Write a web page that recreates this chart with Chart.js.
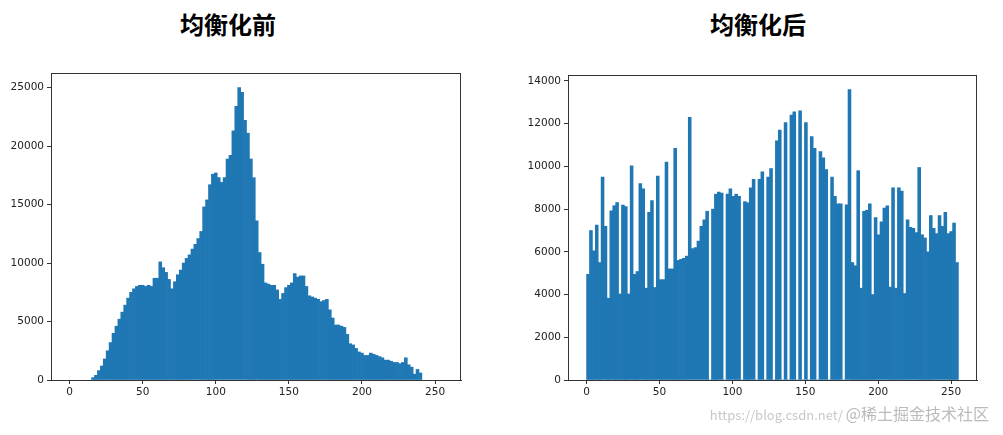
<!doctype html>
<html lang="zh">
  <head>
    <meta charset="UTF-8" />
    <title>均衡化前 / 均衡化后</title>
    <script src="https://cdn.jsdelivr.net/npm/chart.js"></script>
    <style>
      body { margin: 0; width: 1003px; height: 435px; background: #fff; position: relative; overflow: hidden; }
      .title { position: absolute; top: 6px; font-family: "Noto Sans CJK SC", sans-serif; font-weight: 700; font-size: 24px; color: #000; }
      .box { position: absolute; top: 60px; height: 350px; }
      .mark { position: absolute; right: 14px; top: 401px; white-space: nowrap; font-family: "Noto Sans CJK SC", sans-serif; font-size: 13px; color: #c8c8c8; }
      .mark b { font-weight: 400; font-size: 16px; color: #bbb; }
    </style>
  </head>
  <body>
    <div class="title" style="left:180px">均衡化前</div>
    <div class="title" style="left:710px">均衡化后</div>
    <div class="box" style="left:0;width:470px"><canvas id="before"></canvas></div>
    <div class="box" style="left:500px;width:490px"><canvas id="after"></canvas></div>
    <div class="mark">https://blog.csdn.net/ <b>@稀土掘金技术社区</b></div>
    <script>
      // histogram before equalization: 2-wide bins, first centre at 16
      const beforeStart = 16;
      const beforeCounts = [
        200, 400, 800, 1200, 1800, 2500, 3200, 4000, 4600, 5200,
        5800, 6400, 7000, 7500, 7800, 8000, 8100, 8100, 8000, 8100,
        8000, 8700, 8700, 10100, 9600, 9200, 8600, 7800, 8400, 9000,
        9400, 10000, 10400, 10700, 11200, 11600, 12100, 12700, 14800, 15400,
        16700, 17600, 17700, 17300, 16900, 17300, 18900, 19200, 21300, 23400,
        25000, 24600, 22200, 21100, 18900, 17300, 13600, 10900, 9900, 8300,
        8200, 8100, 8100, 7700, 6900, 7400, 7900, 8100, 8300, 9100,
        8800, 8900, 8900, 8000, 7200, 7100, 7000, 6900, 6700, 6800,
        6900, 6000, 5300, 4700, 4700, 4600, 4500, 3900, 3100, 3000,
        2700, 2400, 2300, 2100, 2100, 2300, 2200, 2100, 2000, 1900,
        1700, 1700, 1600, 1500, 1500, 1400, 1500, 1900, 1300, 1100,
        500, 900, 600
      ];
      // histogram after equalization: 128 bins over 0..255
      const afterCounts = [
        4950, 7000, 6050, 7250, 5500, 9500, 7190, 3830, 7920, 8160,
        8310, 4030, 8190, 8120, 4030, 10030, 4950, 5080, 9200, 8950,
        4300, 7850, 8400, 4330, 9550, 4700, 4700, 10200, 5200, 5200,
        10850, 5600, 5650, 5700, 5800, 12300, 6150, 6200, 6500, 7200,
        7500, 7900, 0, 8000, 8700, 8800, 8750, 0, 8700, 8950,
        8600, 8700, 8600, 0, 8350, 8300, 9000, 9400, 0, 9400,
        9750, 0, 9500, 9900, 0, 11200, 11700, 0, 12050, 0,
        12400, 12550, 0, 12600, 0, 12050, 0, 11400, 10850, 0,
        10700, 10400, 9850, 0, 9500, 8600, 8250, 8250, 0, 8200,
        13600, 5500, 5350, 9800, 4300, 7900, 7950, 8250, 4000, 7600,
        6800, 7400, 8050, 8150, 4350, 9000, 4300, 9000, 8850, 4050,
        7500, 7150, 7100, 6900, 9950, 6800, 6650, 6000, 7700, 7100,
        6850, 7700, 7200, 7850, 6850, 6950, 7350, 5500
      ];
      const xTicks = [0, 50, 100, 150, 200, 250];
      const beforeYTicks = [0, 5000, 10000, 15000, 20000, 25000];
      const afterYTicks = [0, 2000, 4000, 6000, 8000, 10000, 12000, 14000];

      const beforeData = beforeCounts.map((y, i) => ({ x: beforeStart + 2 * i, y }));
      const afterWidth = 255 / afterCounts.length;
      const afterData = afterCounts.map((y, i) => ({ x: afterWidth * (i + 0.5), y }));

      const frame = {
        id: 'frame',
        afterDraw(chart) {
          const { ctx, chartArea: a } = chart;
          ctx.save();
          ctx.strokeStyle = '#333';
          ctx.lineWidth = 1;
          ctx.strokeRect(a.left + 0.5, a.top + 0.5, a.right - a.left - 1, a.bottom - a.top);
          ctx.restore();
        },
      };

      function makeChart(id, data, yTicks, yMax, yWidth, pad) {
        const tickFont = { family: 'DejaVu Sans', size: 10.5 };
        new Chart(document.getElementById(id), {
          type: 'bar',
          data: {
            datasets: [{
              data: data,
              backgroundColor: '#1f77b4',
              borderWidth: 0,
              barPercentage: 1,
              categoryPercentage: 1,
            }],
          },
          plugins: [frame],
          options: {
            responsive: true,
            maintainAspectRatio: false,
            animation: false,
            layout: { padding: pad },
            plugins: { legend: { display: false }, tooltip: { enabled: false } },
            scales: {
              x: {
                type: 'linear',
                offset: false,
                min: -12.75,
                max: 267.75,
                afterBuildTicks: s => { s.ticks = xTicks.map(v => ({ value: v })); },
                afterFit: s => { s.height = 30; },
                grid: { drawOnChartArea: false, tickLength: 4, color: '#333', offset: false },
                border: { color: '#333' },
                ticks: { font: tickFont, color: '#222', maxRotation: 0, padding: 2 },
              },
              y: {
                min: 0,
                max: yMax,
                afterBuildTicks: s => { s.ticks = yTicks.map(v => ({ value: v })); },
                afterFit: s => { s.width = yWidth; },
                grid: { drawOnChartArea: false, tickLength: 4, color: '#333' },
                border: { color: '#333' },
                ticks: { font: tickFont, color: '#222', padding: 3, callback: v => String(v) },
              },
            },
          },
        });
      }

      makeChart('before', beforeData, beforeYTicks, 26250, 51, { top: 13, right: 9 });
      makeChart('after', afterData, afterYTicks, 14280, 68, { top: 15, right: 13 });
    </script>
  </body>
</html>
